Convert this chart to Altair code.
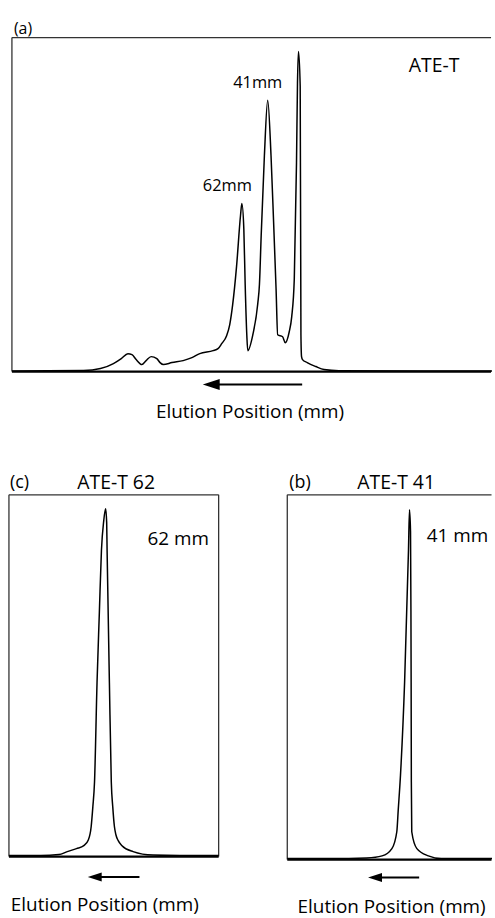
import altair as alt
import pandas as pd

FONT = "Open Sans"

# (a) ATE-T, whole sample: elution position (mm) vs. detector response (a.u.)
a_pos = [248.8, 190.7, 176.9, 166.4, 160.0, 154.6, 151.3, 147.9, 143.3, 139.8,
         135.7, 131.1, 128.5, 125.8, 118.8, 109.7, 102.6, 96.2, 85.4, 81.4,
         78.4, 74.4, 71.9, 69.5, 66.3, 63.1, 62.0, 60.4, 59.3, 58.0,
         57.2, 53.1, 49.1, 47.7, 46.3, 43.7, 41.0, 38.3, 36.2, 34.2,
         32.9, 28.9, 26.7, 23.5, 21.5, 19.4, 17.6, 16.8, 16.0, 14.6,
         14.0, 13.5, 12.7, 8.9, 1.9, -4.8, -16.9, -141.3]
a_sig = [0.5, 1, 3, 8, 13, 18, 17, 12, 7, 11,
         15, 13, 9, 7, 9, 11, 14, 18, 21, 23,
         28, 36, 47, 67, 106, 157, 169, 143, 87, 37,
         21, 37, 68, 88, 137, 217, 273, 217, 150, 83,
         37, 35, 29, 40, 55, 93, 210, 290, 322, 287,
         37, 15, 12, 9, 5, 2, 0.8, 0.5]

# (c) re-run of the 62 mm fraction (relative position, % of track)
c_pos = [0, 15.2, 23.8, 27.8, 32.2, 35.7, 37.9, 39.2, 40.0, 40.8,
         42.0, 43.1, 44.1, 45.2, 46.1, 46.6, 46.8, 47.9, 48.8, 49.5,
         50.3, 51.0, 52.1, 53.9, 59.2, 68.7, 81.5, 100]
c_sig = [1, 1, 2, 5, 8, 11, 17, 30, 50, 75,
         175, 245, 308, 338, 350, 336, 308, 175, 75, 50,
         30, 22, 16, 11, 5, 1.5, 1, 1]

# (b) re-run of the 41 mm fraction (relative position, % of track)
b_pos = [0, 30.1, 38.8, 46.3, 51.1, 53.5, 54.2, 55.3, 57.3, 59.2,
         59.7, 60.2, 60.4, 60.5, 60.6, 60.8, 63.3, 68.9, 75.2, 100]
b_sig = [1, 1, 1.5, 3.7, 11, 28, 50, 85, 178, 311,
         352, 330, 250, 178, 78, 28, 11, 3.7, 1, 1]


def one_row():
    return pd.DataFrame({"k": [0]})


def label(text, x, y, size, align="center"):
    return alt.Chart(pd.DataFrame({"t": [text]})).mark_text(
        font=FONT, fontSize=size, align=align, baseline="middle", color="black"
    ).encode(text="t:N", x=alt.value(x), y=alt.value(y))


def hline(x1, x2, y, width, color="black"):
    return alt.Chart(one_row()).mark_rule(color=color, strokeWidth=width).encode(
        x=alt.value(x1), x2=alt.value(x2), y=alt.value(y))


def vline(x, y1, y2, width, color="black"):
    return alt.Chart(one_row()).mark_rule(color=color, strokeWidth=width).encode(
        x=alt.value(x), y=alt.value(y1), y2=alt.value(y2))


def arrow(tip, tail, y, head_w, head_h):
    r = round(head_h / head_w, 3)
    shaft = hline(tip + head_w * 0.8, tail, y, 2)
    head = alt.Chart(one_row()).mark_point(
        shape=f"M -1 0 L 1 -{r} L 1 {r} Z", filled=True, size=head_w ** 2,
        color="black", opacity=1, strokeWidth=0
    ).encode(x=alt.value(tip + head_w / 2), y=alt.value(y))
    return [shaft, head]


def trace(pos, sig, xdomain, ydomain, reverse, title_x, title_y):
    df = pd.DataFrame({"pos": pos, "signal": sig, "i": range(len(pos))})
    return alt.Chart(df).mark_line(
        color="black", strokeWidth=1.5, interpolate="monotone"
    ).encode(
        x=alt.X("pos:Q",
                scale=alt.Scale(domain=xdomain, reverse=reverse, nice=False, zero=False),
                axis=alt.Axis(title="Elution Position (mm)", domain=False, ticks=False,
                              labels=False, grid=False, titleFont=FONT, titleFontSize=19,
                              titleFontWeight="normal", titleColor="black",
                              titleX=title_x, titleY=title_y, titleAlign="center",
                              titleBaseline="middle")),
        y=alt.Y("signal:Q", scale=alt.Scale(domain=ydomain, nice=False, zero=False),
                axis=None),
        order="i:Q",
    )


# ---- (a) full chromatogram ----
WA, HA = 486, 336
panel_a = alt.layer(
    # keeps the page's top-left corner fixed
    alt.Chart(one_row()).mark_rule(color="white", strokeWidth=0.1).encode(
        x=alt.value(-8), x2=alt.value(-7), y=alt.value(-34)),
    vline(3, 0, HA, 1.2, "#222"),
    hline(3, WA - 1, 0, 1.2, "#333"),
    trace(a_pos, a_sig, [-141.3, 251.3], [0, HA], True, 242, 40),
    hline(3, WA - 1, HA, 2.2),
    label("(a)", 5, -9, 16, "left"),
    label("ATE-T", 427.8, 29, 19.5),
    label("41mm", 250.3, 45.3, 16.5),
    label("62mm", 219.8, 149.3, 16.5),
    *arrow(195, 295, 349, 17, 11),
).properties(width=WA, height=HA)

# ---- (c) 62 mm fraction ----
WC, HC = 211, 364
panel_c = alt.layer(
    vline(0, 0, HC, 1.2, "#222"),
    vline(WC, 0, HC, 1.2, "#222"),
    hline(0, WC, 0, 1.2, "#333"),
    trace(c_pos, c_sig, [0, 100], [0, HC], False, 96, 48.5),
    hline(0, WC, HC, 2.2),
    label("(c)", 1, -12, 18, "left"),
    label("ATE-T 62", 107.8, -12, 19.5),
    label("62 mm", 170.3, 44.3, 19),
    *arrow(79.3, 131.3, 384.5, 14, 9),
).properties(width=WC, height=HC)

# ---- (b) 41 mm fraction ----
WB, HB = 206, 367
panel_b = alt.layer(
    vline(0, 0, HB, 1.2, "#222"),
    hline(0, WB - 0.5, 0, 1.2, "#333"),
    trace(b_pos, b_sig, [0, 100], [0, HB], False, 104.5, 47),
    hline(0, WB - 0.5, HB, 2.2),
    label("(b)", 2, -12, 18, "left"),
    label("ATE-T 41", 109.5, -12, 19.5),
    label("41 mm", 171.2, 41, 19),
    *arrow(81.3, 132.7, 385, 14, 9),
).properties(width=WB, height=HB)

bottom = alt.hconcat(panel_c, panel_b, spacing=69, bounds="flush")
chart = (
    alt.vconcat(panel_a, bottom, spacing=124, bounds="flush")
    .properties(padding=0)
    .configure_view(stroke=None)
)

chart.save("out.html", embed_options={"renderer": "svg", "actions": False})
